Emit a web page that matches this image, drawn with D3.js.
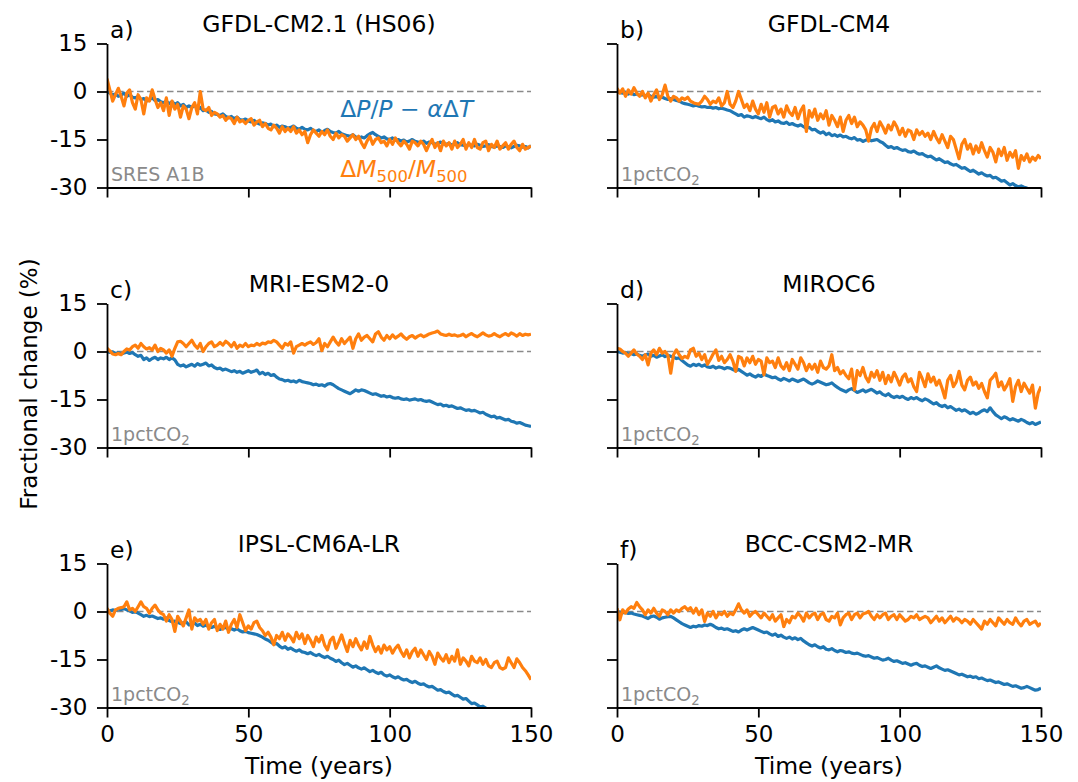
<!DOCTYPE html>
<html>
<head>
<meta charset="utf-8">
<script src="https://cdn.jsdelivr.net/npm/d3@7"></script>
<style>
  body { margin: 0; background: #fff; }
  svg { display: block; font-family: "DejaVu Sans", sans-serif; }
  text { white-space: pre; }
</style>
</head>
<body>
<svg id="chart" width="1078" height="782"></svg>
<script>
// panel labels and titles
const panelLetters = ["a)", "b)", "c)", "d)", "e)", "f)"];
const panelTitles = ["GFDL-CM2.1 (HS06)", "GFDL-CM4", "MRI-ESM2-0", "MIROC6", "IPSL-CM6A-LR", "BCC-CSM2-MR"];
const scenarios = ["SRES A1B", "1pctCO2", "1pctCO2", "1pctCO2", "1pctCO2", "1pctCO2"];
const yTicks = [15, 0, -15, -30];
const xTicks = [0, 50, 100, 150];

// yearly values (year 0, 1, 2, ...), fractional change in %
// blue: dP/P - a dT
const gfdlCm21Precip = [
  0, -0.5, -1, -0.8, -1.5, -1.2, -0.5, -1.5, -1.0, -1.8,
  -2.0, -1.5, -2.5, -2.2, -3.0, -2.5, -2.0, -2.8, -2.5, -3.2,
  -3.5, -3.0, -3.8, -3.2, -4.0, -3.5, -4.5, -4.0, -5.0, -4.5,
  -5.0, -4.2, -5.5, -5.0, -6.0, -5.8, -6.5, -6.2, -7.0, -7.2,
  -7.5, -7.0, -7.8, -8.2, -7.8, -8.5, -8.0, -8.8, -9.0, -8.6,
  -9.2, -9.5, -9.0, -9.8, -10.2, -9.8, -10.0, -10.5, -10.2, -11.0,
  -10.5, -11.2, -10.8, -11.0, -11.5, -11.2, -10.8, -11.5, -11.8, -11.2,
  -11.8, -12.0, -11.5, -12.2, -12.5, -12.0, -12.8, -12.2, -11.8, -12.5,
  -12.8, -13.0, -12.5, -13.2, -13.5, -13.8, -14.0, -13.5, -14.2, -14.5,
  -14.2, -14.5, -13.8, -13.2, -12.8, -13.5, -14.0, -14.5, -14.2, -14.8,
  -15.0, -14.5, -15.2, -15.0, -15.5, -15.2, -15.8, -15.5, -15.0, -15.6,
  -15.8, -16.0, -15.5, -16.2, -15.8, -16.0, -16.5, -16.2, -15.8, -16.4,
  -16.5, -16.2, -16.8, -16.5, -16.0, -16.6, -16.8, -17.0, -16.5, -16.8,
  -17.0, -16.5, -16.8, -17.2, -17.0, -16.6, -17.2, -17.4, -17.0, -17.2,
  -17.5, -17.0, -17.3, -17.6, -17.2, -16.8, -17.0, -17.4, -17.2, -17.6,
  -17.0
];
const gfdlCm4Precip = [
  0, -0.3, -0.5, -0.2, -0.8, -0.5, -1.0, -0.8, -1.2, -1.0,
  -1.3, -1.1, -1.5, -1.8, -1.5, -2.0, -1.8, -2.2, -2.5, -2.2,
  -2.5, -2.8, -3.0, -3.5, -3.8, -4.0, -4.2, -4.5, -4.3, -4.6,
  -4.8, -4.7, -5.0, -4.9, -5.2, -5.0, -5.4, -5.2, -5.5, -5.8,
  -6.0, -6.5, -7.0, -7.5, -7.2, -8.0, -7.6, -7.8, -8.2, -7.8,
  -8.2, -8.5, -8.0, -8.8, -9.2, -8.8, -9.5, -9.2, -9.8, -10.0,
  -9.6, -10.3, -10.0, -10.5, -10.8, -10.4, -11.0, -11.5, -11.2, -12.0,
  -11.8, -12.5, -13.0, -12.6, -13.5, -13.0, -13.8, -13.5, -14.0, -13.6,
  -14.2, -14.0, -14.5, -14.8, -14.4, -15.2, -15.0, -15.6, -15.2, -15.0,
  -15.4, -15.2, -15.0, -15.6, -16.0, -16.8, -17.5, -17.2, -17.8, -17.5,
  -18.0, -18.4, -18.2, -18.8, -19.0, -18.6, -19.2, -19.6, -19.4, -20.0,
  -20.4, -20.2, -20.8, -21.4, -21.0, -21.6, -22.2, -22.0, -22.6, -23.0,
  -22.8, -23.4, -24.0, -23.8, -24.4, -25.0, -24.6, -25.2, -25.8, -25.4,
  -26.0, -26.4, -26.2, -27.0, -26.8, -27.4, -28.0, -27.8, -28.5, -29.2,
  -28.8, -29.4, -29.8, -29.5, -29.9, -30.2, -30.6
];
const mriPrecip = [
  0, -0.3, -0.1, -0.6, -0.4, -0.8, -0.5, -0.2, -0.6, -0.3,
  -1.0, -1.5, -1.2, -2.5, -2.0, -2.8, -2.2, -1.8, -2.5, -2.0,
  -2.3, -1.8, -2.5, -2.0, -2.6, -4.0, -4.5, -4.2, -4.8, -4.4,
  -4.0, -4.6, -3.8, -4.3, -4.0, -3.6, -4.5, -4.2, -5.0, -5.4,
  -5.2, -5.8, -5.5, -5.9, -6.3, -6.0, -6.5, -6.2, -6.8, -6.4,
  -6.0, -6.5, -6.2, -5.8, -7.0, -6.5, -7.2, -6.8, -7.5, -7.2,
  -8.0, -8.6, -8.8, -9.2, -9.0, -9.4, -9.2, -9.6, -9.0, -9.4,
  -9.6, -9.8, -10.0, -10.4, -10.2, -10.6, -10.4, -10.8, -10.2, -10.0,
  -10.4, -11.0, -11.6, -12.0, -12.4, -12.8, -13.2, -12.6, -12.0, -12.4,
  -12.0, -12.2, -12.6, -13.0, -13.4, -13.2, -13.6, -14.0, -13.8, -14.2,
  -14.0, -14.4, -14.6, -14.4, -14.8, -15.0, -14.8, -15.2, -15.0, -14.8,
  -15.2, -15.0, -15.4, -15.6, -15.4, -15.8, -16.2, -16.6, -16.4, -17.0,
  -16.8, -17.2, -17.0, -17.4, -17.8, -17.6, -18.0, -18.4, -18.2, -18.6,
  -18.4, -18.8, -19.2, -19.0, -19.6, -20.0, -20.4, -20.2, -20.8, -20.6,
  -21.0, -21.4, -21.2, -21.8, -22.0, -22.4, -22.2, -22.6, -23.0, -23.2,
  -23.4
];
const mirocPrecip = [
  0, -0.2, -0.5, -0.3, -0.8, -0.6, -1.0, -0.8, -1.2, -1.5,
  -1.0, -0.8, -1.5, -1.2, -1.8, -1.4, -1.0, -1.6, -1.2, -1.5,
  -1.8, -2.2, -2.0, -2.8, -3.5, -4.2, -4.6, -4.0, -4.4, -4.0,
  -4.6, -4.2, -4.8, -5.0, -4.6, -5.2, -4.8, -5.0, -5.4, -5.0,
  -5.2, -5.6, -6.0, -5.6, -6.2, -6.8, -7.4, -7.0, -7.6, -8.0,
  -7.4, -7.8, -7.0, -7.5, -7.8, -8.2, -8.0, -8.6, -9.0, -8.4,
  -8.8, -9.2, -8.6, -9.0, -9.4, -9.0, -8.6, -9.2, -9.8, -10.2,
  -9.8, -9.2, -9.6, -10.0, -10.4, -10.2, -9.8, -10.6, -11.2, -11.8,
  -12.2, -12.6, -12.0, -11.6, -12.2, -12.8, -12.4, -12.0, -12.6, -12.2,
  -11.8, -12.4, -13.0, -12.6, -13.4, -13.8, -13.2, -14.0, -14.4, -14.0,
  -14.4, -14.0, -14.6, -15.0, -14.4, -14.8, -14.4, -15.0, -15.4, -14.8,
  -15.2, -15.8, -16.4, -16.0, -16.8, -17.2, -16.8, -17.6, -17.2, -17.8,
  -18.4, -18.0, -18.6, -18.2, -18.8, -19.4, -19.0, -19.6, -19.2, -18.6,
  -18.2, -18.8, -17.6, -18.8, -19.8, -20.4, -21.0, -20.4, -20.8, -21.4,
  -21.0, -21.4, -21.8, -21.2, -21.6, -22.2, -22.6, -22.2, -22.8, -22.4,
  -22.0
];
const ipslPrecip = [
  0, 0.2, 0.5, 0.3, 0.8, 0.6, 0.9, 0.5, 0.2, -0.3,
  0.0, -0.5, -1.0, -1.5, -1.2, -1.6, -1.4, -1.8, -2.2, -2.0,
  -2.4, -2.0, -2.8, -3.2, -3.0, -3.4, -3.8, -3.5, -3.2, -4.2,
  -4.0, -3.6, -4.4, -4.0, -4.6, -4.2, -4.8, -5.0, -4.6, -5.2,
  -5.6, -5.2, -5.0, -5.6, -5.4, -5.8, -5.4, -6.0, -6.4, -6.2,
  -6.6, -6.8, -7.0, -7.2, -7.6, -8.0, -8.6, -9.0, -9.6, -10.2,
  -10.0, -10.8, -11.4, -11.0, -11.8, -11.4, -12.0, -12.4, -12.0, -12.6,
  -12.8, -13.2, -12.8, -13.4, -13.8, -13.4, -14.0, -14.4, -14.0, -14.6,
  -15.0, -15.6, -15.2, -16.0, -16.6, -16.2, -16.8, -17.4, -17.0, -17.6,
  -18.0, -17.6, -18.2, -18.8, -18.4, -19.0, -19.4, -19.0, -19.8, -20.2,
  -19.8, -20.4, -20.8, -20.4, -21.0, -21.4, -21.2, -21.8, -22.2, -21.8,
  -22.4, -22.8, -22.6, -23.2, -23.6, -23.4, -24.0, -24.6, -24.4, -25.0,
  -25.4, -25.2, -25.8, -26.4, -26.2, -26.8, -27.4, -27.2, -28.0, -28.8,
  -28.6, -29.2, -29.8, -29.6, -30.2, -30.8
];
const bccPrecip = [
  0, -0.2, -0.4, -0.3, -0.6, -0.5, -0.8, -1.0, -1.2, -1.4,
  -1.8, -2.2, -1.6, -1.4, -1.8, -2.4, -2.0, -1.8, -1.6, -1.5,
  -2.0, -2.6, -3.2, -3.8, -4.2, -4.6, -5.0, -4.6, -4.8, -4.4,
  -4.6, -4.2, -4.4, -4.0, -4.4, -5.0, -5.4, -5.2, -5.6, -5.4,
  -5.8, -6.2, -6.0, -6.4, -5.8, -5.4, -5.8, -5.4, -5.0, -5.4,
  -5.8, -6.2, -6.6, -6.4, -7.0, -7.4, -7.0, -7.8, -7.4, -8.0,
  -8.4, -8.0, -8.6, -8.2, -8.8, -8.4, -9.2, -9.8, -10.4, -10.8,
  -10.4, -11.0, -11.4, -11.0, -11.8, -12.0, -11.6, -12.2, -12.6, -12.2,
  -12.4, -12.8, -12.6, -13.0, -13.2, -13.0, -13.4, -13.8, -14.0, -13.8,
  -14.2, -14.6, -14.4, -14.8, -15.2, -15.0, -14.6, -15.2, -15.6, -15.4,
  -15.8, -16.2, -16.0, -16.4, -16.8, -16.4, -16.2, -16.8, -17.2, -17.0,
  -17.4, -17.8, -17.4, -17.0, -17.6, -18.0, -18.4, -18.2, -18.6, -19.0,
  -19.4, -19.8, -19.6, -20.0, -20.4, -20.2, -20.6, -20.4, -21.0, -20.8,
  -21.2, -21.6, -21.4, -21.8, -22.2, -22.0, -22.4, -22.8, -22.6, -23.0,
  -23.4, -23.2, -23.6, -24.0, -23.8, -23.4, -23.8, -24.2, -24.6, -24.4,
  -24.0
];

// orange: dM500/M500
const gfdlCm21Mass = [
  4.0, 0.5, -3.0, -1.0, 1.0, -1.5, -4.5, -0.5, 0.5, -3.5,
  -5.5, -1.0, -2.5, -7.0, -2.0, -3.0, 0.5, -2.5, -5.0, -3.5,
  -6.0, -2.0, -7.5, -3.0, -5.5, -4.0, -8.0, -4.5, -5.5, -8.5,
  -5.0, -3.5, -7.0, 0.0, -5.5, -6.0, -5.0, -7.5, -6.5, -7.0,
  -8.0, -7.5, -9.0, -8.0, -8.5, -10.0, -8.0, -9.5, -9.0, -10.0,
  -9.0, -8.5, -10.5, -9.5, -9.0, -11.0, -10.0, -11.5, -12.0, -10.5,
  -11.5, -13.0, -11.0, -12.5, -11.5, -12.5, -11.0, -13.0, -12.0, -13.5,
  -12.5, -16.0, -13.5, -12.0, -13.0, -14.0, -12.5, -13.5, -12.0, -14.0,
  -15.0, -13.0, -14.5, -13.5, -14.0, -15.5, -14.5, -13.5, -15.0, -14.0,
  -16.0, -17.5, -15.5, -14.0, -16.5, -15.0, -14.5, -16.0, -15.5, -17.0,
  -15.0, -16.5, -14.5, -16.0, -17.0, -15.5, -16.5, -18.0, -15.5, -16.0,
  -17.0, -15.5, -16.5, -18.5, -16.5, -15.0, -17.5, -16.0, -18.5, -15.5,
  -17.0, -16.0, -18.0, -15.5, -17.5, -16.5, -15.0, -18.0, -16.0, -17.5,
  -15.0, -17.5, -18.0, -16.0, -15.5, -18.5, -16.5, -17.5, -15.5, -18.0,
  -17.0, -16.0, -18.0, -16.5, -15.5, -17.5, -18.5, -16.5, -18.0, -17.5,
  -17.0
];
const gfdlCm4Mass = [
  1.0, -0.5, 0.8, -1.5, 0.5, -0.8, 1.2, -0.5, -1.5, 0.0,
  -2.0, -0.5, -3.0, -1.0, 0.5, -2.5, -1.0, 2.0, -1.5, -3.0,
  -1.5, -2.0, -3.0, -2.0, -2.5, -1.8, -3.0, -3.5, -3.8, -4.0,
  -3.0, -1.5, -2.5, -4.0, -3.0, -3.5, -2.0, -4.5, -3.5, 0.0,
  -4.0, -5.0, -3.0, 0.0, -2.5, -5.0, -4.0, -6.0, -3.0, -5.5,
  -7.0, -4.0, -6.5, -3.5, -8.0, -5.0, -4.5, -7.0, -5.5, -8.0,
  -4.5, -6.5, -7.5, -5.0, -8.5, -6.0, -4.5, -12.5, -6.0, -8.0,
  -5.5, -9.0, -7.0, -8.5, -6.0, -10.5, -7.5, -9.0, -11.0, -8.0,
  -12.5, -9.0, -7.5, -10.0, -8.0, -11.0, -9.5, -10.5, -12.0, -15.5,
  -11.5, -10.0, -12.5, -9.5, -11.0, -13.0, -10.5, -12.0, -9.5, -11.0,
  -13.5, -11.5, -14.0, -12.0, -12.5, -15.0, -12.0, -13.5, -12.5, -14.0,
  -13.0, -15.0, -12.5, -14.5, -16.0, -13.5, -15.5, -17.5, -14.0, -15.0,
  -18.0, -21.0, -16.5, -15.0, -18.0, -16.5, -19.5, -17.0, -19.0, -16.0,
  -18.5, -20.5, -17.5, -19.0, -22.0, -18.0, -20.0, -17.5, -21.5, -19.0,
  -20.5, -18.5, -24.0, -20.0, -21.5, -19.5, -22.0, -20.5, -21.5, -20.0,
  -21.0
];
const mriMass = [
  1.0, 0.2, -0.8, -1.0, -0.6, -1.0, 0.0, 0.8, 0.5, 1.5,
  2.0, 1.0, 2.5, 1.5, 0.8, 1.2, 0.5, 2.0, 0.0, 1.0,
  0.5, -0.5, 0.5, -1.5, 1.0, 3.0, 3.2, 2.5, 1.5, 2.5,
  3.5, 2.0, 1.0, 2.5, 0.0, 1.5, 2.5, 3.0, 1.5, 2.0,
  2.8, 2.0, 3.2, 2.5, 1.5, 2.8, 1.0, 2.0, 1.5, 2.5,
  1.5, 2.0, 1.8, 2.5, 2.0, 2.6, 2.4, 3.0, 2.8, 3.5,
  3.0, 2.0, 1.0, 2.5, 2.0, 3.0, -0.5, 1.5, 2.0, 2.5,
  2.0, 2.6, 3.0, 2.2, 2.8, 4.0, 0.3, 2.5, 1.5, 3.0,
  4.5, 3.0, 2.0, 4.0, 2.5, 3.5, 4.5, 1.0, 4.0, 5.5,
  3.5, 4.5, 5.0, 4.0, 3.0, 5.5, 6.2, 4.5, 3.5, 5.0,
  4.0, 5.2, 4.2, 4.8, 5.5, 4.5, 3.8, 4.6, 5.0, 4.2,
  4.8, 5.2, 4.6, 5.0, 5.5, 5.8, 6.0, 6.4, 5.5, 5.2,
  5.0, 5.4, 5.0, 5.2, 4.8, 5.0, 5.4, 4.6, 5.2, 5.6,
  5.0, 4.6, 5.2, 5.8, 5.2, 4.8, 5.0, 5.6, 5.0, 4.6,
  5.2, 5.6, 5.0, 5.8, 5.4, 4.8, 5.6, 5.0, 5.4, 5.2,
  5.4
];
const mirocMass = [
  1.0, 0.8, 0.0, -0.5, -1.5, -0.5, 0.5, -0.8, -1.5, -2.5,
  -1.0, -4.2, -0.5, 0.5, -1.0, 1.0, -0.5, 0.0, -1.2, -6.8,
  -1.0, 0.5, -1.0, -2.2, -1.5, -2.0, 0.5, 1.0, -1.5, -0.5,
  -2.5, -1.0, -4.0, -2.5, -0.8, 0.5, -2.8, -1.5, -3.5, -2.5,
  -1.0, -3.0, -6.2, -1.5, -2.0, -4.5, -2.0, -3.5, -1.5, -4.0,
  -2.5, -3.0, -7.3, -2.0, -3.5, -3.0, -5.0, -2.0, -4.5, -5.5,
  -3.5, -6.0, -2.5, -4.0, -5.5, -2.0, -3.5, -6.0, -4.0, -5.5,
  -4.0, -6.5, -3.0, -5.0, -5.5, -4.5, -1.0, -6.0, -5.0, -7.0,
  -6.0, -7.5, -8.5, -5.5, -12.0, -6.0, -7.5, -5.0, -8.0, -9.5,
  -6.5, -8.0, -6.0, -9.0, -6.5, -10.0, -7.5, -9.5, -6.5, -8.3,
  -10.5, -8.0, -7.0, -9.5, -8.5, -11.0, -12.5, -6.5, -8.5, -11.0,
  -7.0, -9.5, -8.0, -10.5, -9.0, -11.5, -14.5, -9.0, -7.5, -11.0,
  -9.5, -6.2, -10.5, -12.0, -9.0, -8.0, -10.5, -9.5, -11.5, -10.0,
  -12.5, -14.5, -9.0, -8.0, -6.8, -11.0, -9.5, -12.0, -10.5, -8.5,
  -15.6, -11.0, -9.0, -12.5, -9.9, -11.5, -13.0, -10.5, -17.7, -13.0,
  -10.9
];
const ipslMass = [
  1.0, -0.5, -1.5, 0.5, 1.0, 1.2, 1.5, 3.0, 0.5, 1.0,
  0.0, 1.5, 3.0, 1.5, 1.0, -0.5, 1.0, 2.0, 0.5, -0.5,
  -1.0, -3.0, -1.0, -2.5, -6.2, -1.5, -3.0, -4.5, -2.0, 0.5,
  -5.5, -2.0, -3.0, -2.5, -4.0, -2.5, -5.5, -3.5, -2.5, -6.0,
  -4.0, -5.5, -3.0, -6.5, -4.0, -2.5, -5.0, -1.0, -3.5, -6.0,
  -4.5, -5.5, -3.5, -3.0, -5.0, -6.0, -7.5, -6.5, -8.0, -10.4,
  -7.5, -8.5, -6.5, -9.0, -7.0, -8.0, -9.5, -6.5, -8.5, -7.0,
  -10.0, -7.5, -9.0, -11.0, -8.0, -9.5, -7.5, -10.5, -12.0, -9.0,
  -8.0, -11.5, -9.5, -7.3, -10.0, -12.5, -9.0, -11.0, -8.5, -10.5,
  -12.0, -9.5, -11.5, -7.8, -10.5, -12.5, -11.0, -13.0, -10.5, -12.0,
  -11.0, -13.0, -11.5, -10.5, -12.5, -14.0, -12.0, -14.5, -12.5, -11.5,
  -14.0, -12.0, -13.5, -15.0, -12.5, -14.0, -16.5, -13.0, -14.5, -15.5,
  -13.5, -16.0, -14.0, -15.5, -12.0, -16.5, -14.5, -15.5, -17.0, -14.0,
  -15.5, -16.0, -14.5, -16.5, -15.0, -17.0, -17.5, -16.0, -15.5, -17.5,
  -18.0, -17.5, -14.5, -16.0, -17.5, -14.8, -16.0, -17.5, -18.5, -19.8,
  -21.3
];
const bccMass = [
  1.0, -2.6, 0.5, -0.5, 0.8, 1.5, 1.0, 2.8, 1.5, 0.5,
  -1.0, 0.5, -0.5, 1.0, -0.5, -1.5, 0.5, 0.0, -1.0, 0.5,
  -0.5, 0.5, 0.0, 1.0, 1.5, 0.5, 1.2, -0.5, 1.0, -1.0,
  0.5, -3.1, -0.5, -1.5, 0.0, -2.0, -0.5, -1.0, 0.0, -1.5,
  -0.5, -1.0, 0.5, 2.4, 0.5, -0.5, 0.5, -1.5, -0.5, 0.0,
  -1.0, -2.0, -0.5, -1.5, -2.5, -1.0, -3.0, -2.0, -1.0, -4.7,
  -2.5, -3.5, -1.5, -2.0, -0.5, -1.5, -3.0, -0.5, -2.0, -1.0,
  -0.5, -2.5, -1.0, -0.5, -2.5, -3.0, -1.5, -2.0, -0.5, -4.2,
  -2.0, -1.0, -0.5, -2.5, -1.0, -0.5, -2.0, -0.8, -0.5, 0.0,
  -1.5, -2.5, -1.0, -2.0, -1.0, -0.5, -2.5, -1.5, -1.0, -2.5,
  -1.0, -2.0, -3.0, -2.5, -1.5, -2.0, -1.0, -2.5, -2.0, -1.5,
  -2.0, -3.5, -2.5, -1.5, -3.0, -2.0, -3.5, -2.5, -1.5, -3.0,
  -2.0, -2.5, -3.5, -2.5, -3.0, -4.0, -2.5, -3.5, -4.5, -5.5,
  -3.0, -4.0, -2.5, -3.5, -4.5, -2.0, -3.0, -4.0, -2.5, -3.5,
  -4.0, -2.0, -3.5, -4.5, -3.0, -2.5, -4.0, -3.5, -3.0, -4.5,
  -3.6
];

const precipSeries = [gfdlCm21Precip, gfdlCm4Precip, mriPrecip, mirocPrecip, ipslPrecip, bccPrecip];
const massSeries = [gfdlCm21Mass, gfdlCm4Mass, mriMass, mirocMass, ipslMass, bccMass];

const blue = "#1f77b4", orange = "#ff7f0e", grey = "#8a8a8a";

const svg = d3.select("#chart");
const plotW = 424, plotH = 144;
const colX = [107, 617];
const rowY = [43.5, 303.5, 563.5];

const x = d3.scaleLinear().domain([0, 150]).range([0, plotW]);
const y = d3.scaleLinear().domain([-30, 15]).range([plotH, 0]);

const line = d3.line()
    .x((d, i) => x(i))
    .y(d => y(d));

const fmt = d => d < 0 ? "-" + Math.abs(d) : String(d);

// write text made of pieces (italic / subscript)
function richText(sel, parts) {
    let shift = 0;
    parts.forEach(p => {
        const t = sel.append("tspan").text(p.t);
        if (p.i) t.attr("font-style", "italic");
        const want = p.sub ? p.sub : 0;
        if (want !== shift) { t.attr("dy", want - shift); shift = want; }
        if (p.sub) t.attr("font-size", "0.7em");
    });
}

panelTitles.forEach((title, i) => {
    const col = i % 2, row = Math.floor(i / 2);
    const g = svg.append("g").attr("transform", `translate(${colX[col]},${rowY[row]})`);

    g.append("clipPath").attr("id", "clip" + i)
      .append("rect").attr("width", plotW).attr("height", plotH);

    // zero line
    g.append("line")
        .attr("x1", x(0)).attr("x2", x(150))
        .attr("y1", y(0)).attr("y2", y(0))
        .attr("stroke", grey)
        .attr("stroke-width", 1.5)
        .attr("stroke-dasharray", "6.5,3.5");

    const lines = g.append("g").attr("clip-path", `url(#clip${i})`);
    lines.append("path")
        .attr("d", line(precipSeries[i]))
        .attr("fill", "none")
        .attr("stroke", blue)
        .attr("stroke-width", 3.2)
        .attr("stroke-linejoin", "round");
    lines.append("path")
        .attr("d", line(massSeries[i]))
        .attr("fill", "none")
        .attr("stroke", orange)
        .attr("stroke-width", 3.2)
        .attr("stroke-linejoin", "round");

    // axes
    const yAxis = g.append("g")
        .call(d3.axisLeft(y).tickValues(yTicks).tickSize(10).tickSizeOuter(0).tickPadding(9.5)
            .tickFormat(col === 0 ? fmt : () => ""));
    const xAxis = g.append("g")
        .attr("transform", `translate(0,${plotH})`)
        .call(d3.axisBottom(x).tickValues(xTicks).tickSize(10).tickSizeOuter(0).tickPadding(8)
            .tickFormat(row === 2 ? d3.format("d") : () => ""));
    [yAxis, xAxis].forEach(a => {
        a.attr("font-family", null).attr("font-size", null);
        a.selectAll("path, line").attr("stroke", "#000").attr("stroke-width", 1.8);
        a.selectAll("text").attr("font-size", 23).attr("fill", "#000");
    });

    // titles
    g.append("text")
        .attr("x", plotW / 2).attr("y", -12)
        .attr("text-anchor", "middle")
        .attr("font-size", 23.5)
        .text(title);
    g.append("text")
        .attr("x", 3).attr("y", -5.5)
        .attr("font-size", 23.5)
        .text(panelLetters[i]);

    // scenario label
    const sc = g.append("text")
        .attr("x", 4).attr("y", plotH - 6.5)
        .attr("font-size", 19)
        .attr("fill", grey);
    if (scenarios[i] === "1pctCO2") richText(sc, [{ t: "1pctCO" }, { t: "2", sub: 4 }]);
    else sc.text(scenarios[i]);

    if (i === 0) {
        const t1 = g.append("text")
            .attr("x", x(82.5)).attr("y", y(-8))
            .attr("font-size", 23.5)
            .attr("fill", blue);
        richText(t1, [{ t: "Δ" }, { t: "P", i: true }, { t: "/" }, { t: "P", i: true },
            { t: " − " }, { t: "α", i: true }, { t: "Δ" }, { t: "T", i: true }]);
        const t2 = g.append("text")
            .attr("x", x(82.5)).attr("y", y(-26.7))
            .attr("font-size", 23.5)
            .attr("fill", orange);
        richText(t2, [{ t: "Δ" }, { t: "M", i: true }, { t: "500", sub: 5 }, { t: "/" },
            { t: "M", i: true }, { t: "500", sub: 5 }]);
    }
});

// shared axis labels
svg.append("text")
    .attr("transform", "translate(37,384) rotate(-90)")
    .attr("text-anchor", "middle")
    .attr("font-size", 23)
    .text("Fractional change (%)");

[0, 1].forEach(col => {
    svg.append("text")
        .attr("x", colX[col] + plotW / 2).attr("y", 774)
        .attr("text-anchor", "middle")
        .attr("font-size", 23.5)
        .text("Time (years)");
});
</script>
</body>
</html>
